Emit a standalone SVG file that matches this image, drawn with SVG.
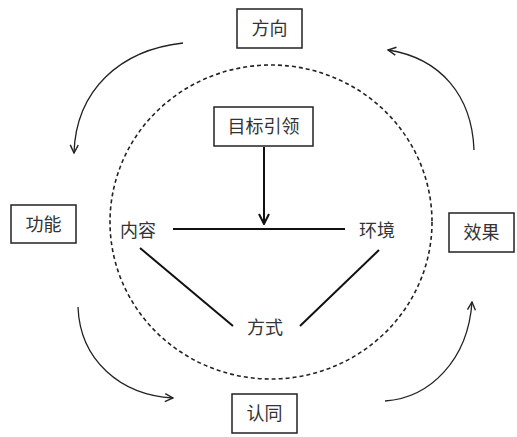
<svg xmlns="http://www.w3.org/2000/svg" width="517" height="437" viewBox="0 0 517 437">
<style>
.box{fill:#fff;stroke:#222;stroke-width:1.5}
.t{font-family:"Liberation Sans","Noto Sans CJK SC",sans-serif;font-size:18px;fill:#333;text-anchor:middle;dominant-baseline:central}
.arc{fill:none;stroke:#222;stroke-width:1.3;marker-end:url(#open)}
.ln{fill:none;stroke:#111;stroke-width:2}
</style>
<defs>
<marker id="open" viewBox="0 0 10 10" refX="9" refY="5" markerWidth="10" markerHeight="10" markerUnits="userSpaceOnUse" orient="auto">
<path d="M1,1 L9,5 L1,9" fill="none" stroke="#222" stroke-width="1.4"/>
</marker>
<marker id="open2" viewBox="0 0 12 12" refX="11" refY="6" markerWidth="12" markerHeight="12" markerUnits="userSpaceOnUse" orient="auto">
<path d="M1,1 L11,6 L1,11" fill="none" stroke="#111" stroke-width="2"/>
</marker>
</defs>
<ellipse cx="271" cy="222" rx="161" ry="157" fill="none" stroke="#222" stroke-width="1.6" stroke-dasharray="4 3"/>
<g id="connectors">
<path class="arc" d="M183,43 C120,50 76,90 74,153"/>
<path class="arc" d="M474,150 C472,95 440,58 388,50"/>
<path class="arc" d="M78,307 C80,360 120,395 173,398"/>
<path class="arc" d="M385,401 C430,398 468,360 472,302"/>
<path class="ln" d="M264,147 L264,224" marker-end="url(#open2)"/>
<path class="ln" d="M173,229 L345,229"/>
<path class="ln" d="M140,248 L233,326"/>
<path class="ln" d="M379,250 L300,326"/>
</g>
<g id="n-fangxiang"><rect class="box" x="237" y="9" width="65" height="39"/><text class="t" x="269.5" y="29">方向</text></g>
<g id="n-mubiao"><rect class="box" x="214" y="107" width="99" height="39"/><text class="t" x="263.5" y="127">目标引领</text></g>
<g id="n-gongneng"><rect class="box" x="11" y="205" width="65" height="38"/><text class="t" x="43.5" y="225">功能</text></g>
<g id="n-xiaoguo"><rect class="box" x="449" y="213" width="65" height="39"/><text class="t" x="481.5" y="233">效果</text></g>
<g id="n-rentong"><rect class="box" x="232" y="394" width="65" height="39"/><text class="t" x="264.5" y="414">认同</text></g>
<g id="n-neirong"><text class="t" x="138" y="231">内容</text></g>
<g id="n-huanjing"><text class="t" x="377" y="231">环境</text></g>
<g id="n-fangshi"><text class="t" x="265" y="328">方式</text></g>
</svg>
